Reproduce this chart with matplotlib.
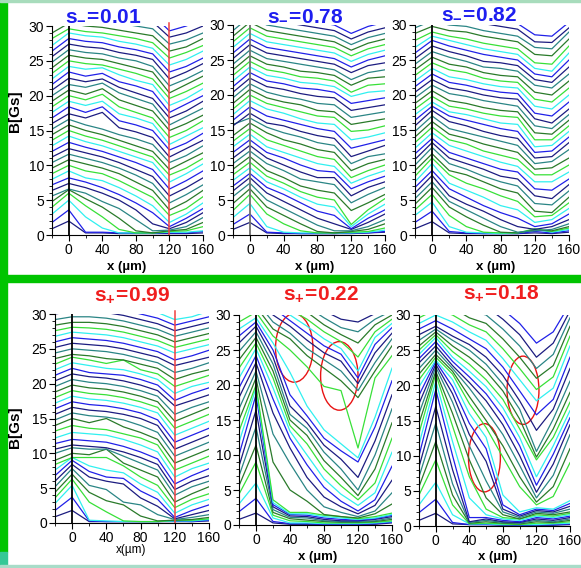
import matplotlib.pyplot as plt
from matplotlib.patches import Ellipse, Rectangle
from matplotlib.ticker import MultipleLocator

plt.rcParams['font.family'] = ['Liberation Sans', 'DejaVu Sans']
plt.rcParams['mathtext.fontset'] = 'custom'
plt.rcParams['mathtext.bf'] = 'Liberation Sans:bold'
plt.rcParams['mathtext.rm'] = 'Liberation Sans'

W, H = 581, 568

# sample positions (um) and line colour cycle (bottom line first)
x_pos = [-20, 0, 20, 40, 60, 80, 100, 120, 140, 160]
line_colors = ['#1c1c80', '#2020e8', '#30f0f0', '#38e038', '#2a7a2a', '#2a8585']

# B(x) profiles in Gs, one row per applied field
b_minus_001 = [
    [0.9, 2.0, 0.3, 0.3, 0.2, 0.2, 0.2, 0.2, 0.2, 0.3],
    [1.8, 3.6, 0.4, 0.4, 0.3, 0.3, 0.3, 0.3, 0.3, 0.5],
    [3.0, 5.0, 2.6, 1.0, 0.3, 0.3, 0.3, 0.4, 0.4, 0.6],
    [4.0, 6.0, 4.2, 2.6, 0.8, 0.3, 0.3, 0.5, 0.6, 1.2],
    [4.8, 6.5, 5.2, 4.0, 2.4, 0.6, 0.3, 0.6, 0.8, 1.8],
    [5.6, 6.6, 6.0, 4.8, 3.8, 2.2, 0.6, 0.7, 1.2, 2.5],
    [6.4, 7.4, 6.8, 6.0, 5.0, 3.6, 1.6, 0.9, 1.8, 3.2],
    [7.2, 8.2, 7.6, 6.8, 5.8, 4.6, 3.2, 1.2, 2.4, 3.8],
    [8.0, 9.2, 8.2, 7.8, 6.8, 5.6, 4.2, 1.8, 3.0, 4.6],
    [8.8, 10.0, 9.2, 8.8, 7.8, 6.6, 5.4, 2.8, 3.8, 5.5],
    [9.6, 10.8, 10.2, 9.6, 8.8, 7.6, 6.4, 3.6, 4.8, 6.4],
    [10.4, 11.6, 11.0, 10.4, 9.6, 8.6, 7.4, 4.6, 5.8, 7.2],
    [11.2, 12.4, 11.8, 11.2, 10.4, 9.4, 8.4, 5.6, 6.8, 8.2],
    [12.0, 13.3, 12.6, 12.0, 11.2, 10.4, 9.4, 6.6, 7.8, 9.2],
    [12.8, 14.2, 13.4, 12.8, 12.0, 11.2, 10.4, 7.6, 8.8, 10.2],
    [13.6, 15.0, 14.2, 13.6, 12.8, 12.0, 11.2, 8.6, 9.6, 11.0],
    [14.4, 15.8, 15.0, 14.4, 13.6, 12.8, 12.0, 9.4, 10.6, 11.8],
    [15.2, 16.6, 15.8, 15.2, 14.4, 13.8, 13.0, 10.4, 11.4, 12.8],
    [16.0, 17.4, 16.8, 17.6, 15.4, 14.8, 14.0, 11.2, 12.4, 13.6],
    [16.8, 18.4, 17.6, 18.4, 16.4, 15.8, 15.0, 12.2, 13.2, 14.6],
    [17.6, 19.2, 18.6, 19.2, 17.4, 16.8, 16.0, 13.0, 14.2, 15.4],
    [18.4, 20.0, 19.4, 20.2, 18.4, 17.6, 16.8, 14.0, 15.0, 16.4],
    [19.2, 20.8, 20.2, 21.0, 19.4, 18.6, 17.8, 15.0, 16.0, 17.2],
    [20.0, 21.6, 21.2, 21.8, 20.4, 19.6, 18.8, 15.8, 17.0, 18.2],
    [20.8, 22.5, 22.0, 22.4, 21.2, 20.4, 19.6, 16.8, 17.8, 19.2],
    [21.6, 23.4, 22.8, 23.2, 22.0, 21.4, 20.6, 17.6, 18.8, 20.0],
    [22.4, 24.2, 23.8, 24.0, 23.0, 22.2, 21.6, 18.6, 19.6, 21.0],
    [23.2, 25.0, 24.6, 24.4, 23.8, 23.2, 22.4, 19.6, 20.6, 21.8],
    [24.0, 25.8, 25.4, 25.2, 24.6, 24.0, 23.4, 20.4, 21.6, 22.8],
    [24.8, 26.6, 26.2, 26.0, 25.4, 25.0, 24.2, 21.4, 22.4, 23.6],
    [25.6, 27.4, 27.0, 26.8, 26.2, 25.8, 25.2, 22.4, 23.4, 24.6],
    [26.4, 28.2, 27.8, 27.6, 27.0, 26.6, 26.0, 23.4, 24.2, 25.4],
    [27.2, 29.0, 28.6, 28.4, 27.8, 27.4, 26.8, 24.4, 25.2, 26.4],
    [28.2, 29.6, 29.2, 29.0, 28.6, 28.2, 27.6, 25.4, 26.2, 27.2],
    [29.0, 30.4, 30.0, 29.8, 29.4, 29.0, 28.6, 26.4, 27.0, 28.2],
    [30.0, 31.2, 31.0, 30.8, 30.4, 30.0, 29.6, 27.4, 28.0, 29.0],
    [31.0, 32.0, 32.0, 31.8, 31.4, 31.0, 30.6, 28.4, 29.0, 30.0],
    [32.0, 33.0, 33.0, 32.8, 32.4, 32.0, 31.6, 29.3, 30.0, 31.0],
]

b_minus_078 = [
    [0.8, 1.8, 0.3, 0.2, 0.2, 0.2, 0.2, 0.2, 0.3, 0.4],
    [1.5, 3.0, 0.4, 0.3, 0.2, 0.2, 0.2, 0.3, 0.3, 0.5],
    [2.5, 4.5, 1.2, 0.4, 0.3, 0.3, 0.3, 0.3, 0.4, 0.7],
    [3.5, 5.8, 3.0, 1.6, 0.6, 0.3, 0.3, 0.4, 0.5, 1.0],
    [4.5, 6.6, 4.0, 2.8, 1.6, 0.5, 0.3, 0.5, 0.8, 1.6],
    [5.5, 7.4, 5.0, 3.8, 2.6, 1.4, 0.6, 0.6, 1.2, 2.2],
    [6.3, 8.2, 6.0, 4.8, 3.6, 2.4, 1.6, 0.8, 1.8, 3.0],
    [7.0, 8.8, 6.8, 5.8, 4.6, 3.4, 2.8, 0.9, 2.4, 3.6],
    [7.8, 9.6, 7.6, 6.6, 5.4, 4.4, 4.0, 1.2, 3.0, 4.4],
    [8.6, 10.4, 8.4, 7.4, 6.2, 5.4, 5.0, 1.5, 3.6, 5.2],
    [9.4, 11.2, 9.2, 8.2, 7.0, 6.4, 6.0, 3.5, 4.6, 5.8],
    [10.2, 12.0, 10.2, 9.2, 8.0, 7.6, 7.2, 4.6, 5.8, 6.8],
    [11.0, 12.8, 11.0, 10.0, 9.0, 8.2, 8.2, 5.6, 6.8, 7.6],
    [11.8, 13.6, 11.8, 11.0, 10.0, 9.2, 9.0, 6.6, 7.6, 8.4],
    [12.6, 14.4, 12.6, 11.8, 11.0, 10.2, 9.8, 7.4, 8.4, 9.2],
    [13.4, 15.2, 13.6, 12.8, 12.0, 11.2, 10.8, 8.2, 9.2, 10.0],
    [14.2, 16.0, 14.6, 13.6, 13.0, 12.2, 11.8, 9.2, 10.2, 10.8],
    [15.8, 16.7, 15.4, 14.6, 14.0, 13.2, 12.8, 10.2, 11.2, 11.6],
    [15.6, 17.4, 16.0, 15.6, 14.8, 14.2, 13.8, 11.2, 12.0, 12.8],
    [16.4, 18.3, 17.0, 16.4, 15.8, 15.2, 14.8, 12.4, 13.0, 13.6],
    [17.2, 19.2, 18.0, 17.4, 16.6, 16.0, 15.8, 13.6, 14.0, 14.6],
    [18.0, 20.0, 18.8, 18.2, 17.6, 17.0, 16.8, 14.8, 15.0, 15.6],
    [18.8, 20.8, 19.6, 19.0, 18.6, 17.8, 17.6, 15.8, 16.2, 16.6],
    [19.6, 21.6, 20.4, 19.8, 19.4, 18.8, 18.6, 16.8, 17.2, 17.6],
    [20.4, 22.4, 21.2, 20.8, 20.2, 19.8, 19.6, 17.8, 18.2, 18.6],
    [21.2, 23.2, 22.0, 21.6, 21.0, 20.8, 20.4, 18.8, 19.2, 19.6],
    [22.0, 24.0, 22.8, 22.4, 21.8, 21.6, 21.2, 19.8, 20.4, 20.6],
    [22.8, 24.8, 23.6, 23.2, 22.6, 22.4, 22.0, 20.4, 21.4, 21.6],
    [23.6, 25.6, 24.4, 24.0, 23.4, 23.2, 22.8, 21.4, 22.4, 22.6],
    [24.4, 26.4, 25.2, 24.8, 24.4, 24.0, 23.6, 22.2, 23.2, 23.6],
    [25.2, 27.2, 26.0, 25.6, 25.2, 24.8, 24.4, 23.2, 24.2, 24.6],
    [26.0, 28.0, 26.8, 26.4, 26.0, 25.6, 25.2, 24.0, 25.0, 25.6],
    [26.8, 28.8, 27.6, 27.2, 26.8, 26.4, 26.0, 24.8, 25.8, 26.4],
    [27.6, 29.6, 28.4, 28.0, 27.6, 27.2, 26.8, 25.6, 26.6, 27.2],
    [28.4, 30.4, 29.2, 28.8, 28.4, 28.0, 27.6, 26.4, 27.4, 28.0],
    [29.2, 31.2, 30.0, 29.6, 29.2, 28.8, 28.4, 27.2, 28.2, 28.8],
    [30.0, 32.0, 30.8, 30.4, 30.0, 29.6, 29.2, 28.0, 29.0, 29.6],
    [30.8, 32.8, 31.6, 31.2, 30.8, 30.4, 30.0, 28.8, 29.8, 30.4],
]

b_minus_082 = [
    [0.9, 1.9, 0.3, 0.2, 0.2, 0.2, 0.2, 0.3, 0.2, 0.4],
    [1.8, 3.4, 0.5, 0.3, 0.2, 0.2, 0.2, 0.5, 0.3, 0.6],
    [2.8, 4.7, 1.2, 0.4, 0.3, 0.2, 0.3, 0.8, 0.4, 0.8],
    [3.6, 5.8, 2.8, 1.2, 0.4, 0.3, 0.3, 0.9, 0.5, 1.0],
    [4.4, 6.8, 4.0, 2.6, 1.4, 0.4, 0.3, 0.7, 0.6, 1.2],
    [5.2, 7.6, 4.8, 3.6, 2.4, 1.2, 0.4, 0.6, 0.8, 1.6],
    [6.0, 8.5, 5.6, 4.4, 3.4, 2.2, 1.2, 0.8, 1.2, 2.2],
    [6.8, 9.2, 6.6, 5.4, 4.2, 3.2, 2.4, 1.2, 1.6, 3.0],
    [7.6, 10.2, 7.4, 6.4, 5.4, 4.2, 3.6, 1.8, 2.2, 3.8],
    [8.4, 11.0, 8.6, 7.4, 6.6, 5.6, 4.8, 2.6, 2.8, 4.6],
    [9.2, 11.6, 9.2, 8.6, 7.6, 6.6, 6.0, 3.4, 3.2, 5.4],
    [10.0, 12.5, 10.2, 9.4, 8.4, 7.6, 7.0, 4.5, 4.3, 6.3],
    [10.8, 13.2, 11.0, 10.2, 9.4, 8.4, 8.0, 5.6, 5.2, 7.2],
    [11.6, 13.8, 11.8, 11.0, 10.2, 9.4, 9.0, 6.6, 6.4, 8.0],
    [12.4, 14.6, 12.8, 12.0, 11.2, 10.4, 9.8, 7.6, 7.6, 9.0],
    [13.2, 15.4, 13.6, 13.0, 12.0, 11.4, 10.8, 8.6, 8.6, 10.0],
    [14.0, 16.2, 14.4, 13.8, 13.0, 12.4, 11.8, 9.4, 9.6, 11.0],
    [14.8, 17.0, 15.2, 14.6, 14.0, 13.4, 12.8, 10.2, 10.5, 12.2],
    [15.6, 17.8, 16.2, 15.6, 14.8, 14.2, 13.8, 11.0, 11.2, 13.2],
    [16.4, 18.4, 17.0, 16.4, 15.8, 15.2, 14.8, 11.8, 12.0, 14.0],
    [17.2, 19.0, 17.6, 17.2, 16.6, 16.0, 15.8, 12.6, 12.8, 14.8],
    [18.0, 19.8, 18.4, 18.0, 17.4, 17.0, 16.8, 13.6, 13.6, 15.6],
    [18.8, 20.6, 19.2, 18.8, 18.2, 17.8, 17.6, 14.6, 14.4, 16.4],
    [19.6, 21.4, 20.2, 19.8, 19.2, 18.8, 18.4, 15.6, 15.2, 17.2],
    [20.4, 22.2, 21.0, 20.6, 20.0, 19.6, 19.4, 16.6, 16.0, 18.0],
    [21.2, 23.0, 21.8, 21.4, 20.8, 20.4, 20.2, 17.4, 17.0, 19.0],
    [22.0, 23.8, 22.6, 22.2, 21.6, 21.2, 21.0, 18.4, 18.0, 20.0],
    [22.8, 24.6, 23.6, 23.2, 22.4, 22.0, 21.8, 19.4, 19.0, 21.0],
    [23.6, 25.4, 24.4, 24.0, 23.2, 22.8, 22.6, 20.4, 20.0, 22.0],
    [24.4, 26.2, 25.4, 24.8, 24.0, 23.8, 23.4, 21.4, 21.0, 23.0],
    [25.2, 27.0, 26.2, 25.6, 24.8, 24.6, 24.2, 22.2, 21.8, 24.0],
    [26.0, 27.8, 27.0, 26.4, 25.8, 25.4, 25.0, 23.0, 22.6, 25.0],
    [26.8, 28.4, 27.8, 27.2, 26.6, 26.2, 25.8, 23.8, 23.4, 26.0],
    [27.8, 29.0, 28.4, 28.0, 27.4, 27.0, 26.6, 24.6, 24.4, 27.0],
    [28.8, 29.8, 29.2, 29.0, 28.4, 28.0, 27.6, 25.8, 25.6, 28.0],
    [29.6, 30.6, 30.0, 29.8, 29.2, 28.8, 28.4, 26.8, 26.6, 29.0],
    [30.4, 31.4, 31.0, 30.8, 30.2, 29.8, 29.4, 27.6, 27.5, 29.6],
    [31.2, 32.2, 31.8, 31.6, 31.0, 30.6, 30.2, 28.6, 28.4, 30.4],
]

b_plus_099 = [
    [0.9, 1.8, 0.2, 0.2, 0.2, 0.2, 0.2, 0.2, 0.2, 0.3],
    [1.8, 3.7, 0.3, 0.2, 0.2, 0.2, 0.2, 0.3, 0.2, 0.4],
    [2.8, 5.4, 0.4, 0.3, 0.2, 0.2, 0.2, 0.3, 0.3, 0.5],
    [3.6, 6.3, 3.0, 1.6, 0.3, 0.2, 0.2, 0.4, 0.4, 0.6],
    [4.4, 7.0, 4.4, 3.2, 2.6, 1.0, 0.3, 0.4, 0.5, 0.8],
    [5.2, 7.8, 5.4, 4.8, 3.0, 2.6, 1.2, 0.5, 0.8, 1.2],
    [6.0, 8.4, 6.6, 6.0, 5.6, 3.6, 2.4, 0.6, 1.2, 1.8],
    [6.8, 9.0, 7.4, 6.6, 6.4, 4.6, 3.4, 0.8, 1.8, 2.6],
    [7.6, 9.4, 8.2, 7.6, 7.2, 5.6, 4.4, 1.4, 2.6, 3.4],
    [8.4, 9.4, 9.4, 9.4, 8.2, 6.6, 5.4, 2.2, 3.4, 4.2],
    [9.0, 10.0, 9.8, 10.6, 8.6, 7.6, 6.6, 3.0, 4.2, 5.2],
    [10.0, 10.8, 10.6, 10.6, 9.6, 8.6, 7.6, 4.0, 5.2, 6.0],
    [10.6, 11.2, 11.0, 10.8, 10.2, 9.4, 8.4, 4.8, 6.0, 6.8],
    [11.4, 12.0, 11.8, 11.6, 11.0, 10.2, 9.2, 5.6, 6.8, 7.8],
    [12.2, 13.0, 12.8, 12.6, 12.0, 11.2, 10.2, 6.6, 7.8, 8.6],
    [13.2, 14.0, 13.6, 13.4, 12.8, 12.2, 11.2, 7.6, 8.6, 9.6],
    [14.0, 15.0, 14.4, 15.0, 13.8, 13.0, 12.0, 8.6, 9.6, 10.6],
    [14.8, 15.8, 15.4, 15.2, 14.8, 14.0, 13.0, 9.6, 10.6, 11.6],
    [15.6, 16.6, 16.2, 16.0, 15.6, 15.0, 14.0, 10.6, 11.6, 12.6],
    [16.4, 17.4, 17.0, 16.8, 16.4, 15.8, 14.8, 11.6, 12.6, 13.6],
    [17.2, 18.2, 17.8, 17.6, 17.2, 16.6, 15.8, 12.6, 13.6, 14.6],
    [18.0, 19.0, 18.6, 18.4, 18.0, 17.4, 16.6, 13.6, 14.6, 15.6],
    [18.8, 19.8, 19.4, 19.2, 18.8, 18.2, 17.4, 14.6, 15.6, 16.6],
    [19.6, 20.6, 20.2, 20.0, 19.6, 19.0, 18.2, 15.6, 16.6, 17.4],
    [20.4, 21.4, 21.0, 20.8, 20.4, 19.8, 19.0, 16.8, 17.6, 18.4],
    [21.2, 22.2, 21.6, 21.4, 21.2, 20.6, 19.8, 17.6, 18.6, 19.4],
    [22.0, 23.0, 22.6, 22.2, 22.0, 21.4, 20.6, 18.6, 19.6, 20.2],
    [22.8, 23.8, 23.4, 22.9, 23.4, 22.0, 21.4, 19.6, 20.4, 21.2],
    [23.6, 24.2, 24.0, 23.6, 23.4, 22.8, 22.2, 20.6, 21.4, 22.0],
    [24.4, 25.0, 24.8, 24.6, 24.2, 23.6, 23.0, 21.6, 22.2, 23.0],
    [25.2, 25.8, 25.6, 25.4, 25.0, 24.4, 23.8, 22.6, 23.2, 23.8],
    [26.0, 26.6, 26.4, 26.2, 25.8, 25.2, 24.6, 23.4, 24.0, 24.8],
    [26.8, 27.4, 27.2, 27.0, 26.6, 26.0, 25.4, 24.4, 25.0, 25.6],
    [27.6, 28.1, 28.0, 27.8, 27.4, 26.8, 26.2, 25.2, 25.8, 26.4],
    [28.4, 28.8, 28.8, 28.6, 28.2, 27.6, 27.0, 26.0, 26.6, 27.2],
    [29.2, 29.6, 29.6, 29.4, 29.0, 28.4, 27.8, 26.8, 27.4, 28.0],
    [30.0, 30.4, 30.4, 30.2, 29.8, 29.2, 28.6, 27.6, 28.2, 28.8],
    [30.8, 31.2, 31.2, 31.0, 30.6, 30.0, 29.4, 28.4, 29.0, 29.6],
    [31.6, 32.0, 32.0, 31.8, 31.4, 30.8, 30.2, 29.2, 29.6, 30.4],
]

b_plus_022 = [
    [0.8, 1.7, 0.3, 0.1, 0.1, 0.1, 0.1, 0.1, 0.1, 0.3],
    [1.9, 3.8, 0.5, 0.2, 0.2, 0.1, 0.1, 0.1, 0.2, 0.4],
    [3.0, 6.0, 1.0, 0.3, 0.3, 0.2, 0.2, 0.2, 0.3, 0.5],
    [4.4, 9.0, 1.4, 0.6, 0.5, 0.3, 0.3, 0.3, 0.4, 0.6],
    [5.6, 11.4, 1.8, 0.9, 0.7, 0.5, 0.4, 0.4, 0.5, 0.8],
    [7.0, 14.0, 2.2, 1.1, 1.0, 0.6, 0.5, 0.5, 0.6, 1.0],
    [8.4, 16.4, 2.6, 1.3, 1.2, 0.8, 0.6, 0.6, 0.8, 1.2],
    [10.0, 18.6, 2.9, 1.5, 1.4, 1.0, 0.8, 0.7, 0.9, 1.4],
    [11.8, 19.6, 3.2, 1.6, 1.6, 1.2, 1.0, 0.8, 1.0, 1.5],
    [13.4, 20.0, 3.6, 1.8, 1.8, 1.4, 1.2, 0.9, 1.2, 1.7],
    [15.0, 21.0, 9.0, 5.0, 3.4, 1.5, 1.2, 1.0, 1.6, 3.0],
    [16.6, 22.0, 13.0, 8.8, 5.0, 2.6, 1.8, 1.2, 2.0, 4.6],
    [18.2, 23.2, 16.0, 11.0, 6.8, 4.0, 2.6, 1.6, 2.8, 6.4],
    [19.6, 24.2, 18.0, 12.4, 8.6, 5.4, 3.4, 2.0, 3.6, 8.4],
    [21.0, 25.2, 19.6, 13.4, 10.0, 6.6, 4.4, 2.8, 4.6, 10.4],
    [22.4, 26.0, 21.0, 14.2, 11.6, 8.0, 5.6, 3.6, 6.0, 12.4],
    [23.6, 26.8, 22.0, 15.0, 12.8, 9.2, 6.8, 4.2, 8.0, 14.6],
    [24.8, 27.6, 23.0, 15.8, 13.8, 10.4, 8.0, 5.0, 10.0, 16.6],
    [26.0, 28.4, 24.0, 17.0, 14.6, 11.4, 9.4, 6.8, 12.0, 18.6],
    [27.0, 29.0, 25.0, 18.6, 15.6, 12.4, 10.6, 9.0, 14.0, 20.6],
    [28.0, 29.6, 26.0, 21.8, 17.0, 13.6, 11.6, 9.6, 15.4, 22.4],
    [29.0, 30.4, 27.0, 25.0, 22.6, 19.8, 19.2, 11.0, 21.0, 24.2],
    [30.0, 31.2, 28.0, 26.6, 24.2, 22.4, 20.6, 18.2, 22.0, 25.6],
    [30.8, 32.0, 29.0, 27.4, 25.2, 23.6, 22.0, 19.2, 23.2, 26.6],
    [31.6, 32.8, 30.0, 28.4, 26.4, 24.6, 23.4, 20.2, 24.6, 27.4],
    [32.4, 33.6, 31.0, 29.2, 27.4, 25.6, 24.4, 21.0, 25.8, 28.2],
    [33.2, 34.4, 31.8, 30.0, 28.4, 26.6, 25.2, 22.0, 26.8, 28.8],
    [34.0, 35.2, 32.6, 30.8, 29.4, 27.6, 26.2, 24.0, 27.6, 29.4],
    [34.8, 36.0, 33.4, 31.6, 30.4, 28.6, 27.2, 26.0, 28.6, 30.0],
    [35.6, 36.8, 34.2, 32.4, 31.2, 29.6, 28.2, 27.6, 29.4, 30.6],
    [36.4, 37.6, 35.0, 33.2, 32.0, 30.6, 29.4, 29.0, 30.2, 31.2],
]

b_plus_018 = [
    [0.8, 1.8, 0.3, 0.2, 0.2, 0.1, 0.1, 0.1, 0.1, 0.2],
    [1.9, 3.8, 0.5, 0.2, 0.2, 0.2, 0.1, 0.2, 0.2, 0.3],
    [3.0, 6.2, 1.6, 0.3, 0.3, 0.2, 0.2, 0.2, 0.3, 0.4],
    [4.4, 9.4, 3.0, 0.3, 0.4, 0.3, 0.2, 0.4, 0.4, 0.6],
    [5.6, 12.0, 4.4, 0.4, 0.6, 0.4, 0.3, 0.6, 0.5, 0.8],
    [7.0, 14.6, 6.0, 0.5, 0.8, 0.5, 0.4, 0.8, 0.6, 1.0],
    [8.4, 17.0, 8.0, 0.6, 1.0, 0.6, 0.5, 1.0, 0.8, 1.2],
    [10.0, 19.4, 10.0, 1.2, 1.2, 0.8, 0.6, 1.2, 1.0, 1.4],
    [11.6, 20.6, 12.0, 4.0, 1.6, 1.0, 0.8, 1.4, 1.2, 1.6],
    [13.2, 21.6, 14.2, 7.0, 2.4, 1.2, 1.0, 1.6, 1.4, 1.8],
    [14.6, 22.0, 16.0, 9.4, 4.0, 1.6, 1.0, 1.8, 1.6, 2.0],
    [16.0, 22.6, 17.6, 11.4, 6.4, 2.0, 1.2, 2.0, 1.8, 2.4],
    [17.4, 23.0, 18.8, 13.0, 9.2, 2.4, 1.4, 2.2, 2.0, 2.8],
    [18.6, 23.4, 19.8, 14.6, 11.0, 3.0, 1.6, 2.4, 2.2, 3.2],
    [19.8, 23.6, 20.8, 16.0, 12.6, 4.4, 2.0, 2.6, 2.4, 3.6],
    [20.8, 24.0, 21.6, 17.4, 14.0, 9.8, 5.6, 3.0, 4.2, 9.0],
    [21.6, 24.4, 22.0, 18.4, 15.0, 11.4, 7.0, 3.4, 5.6, 11.0],
    [22.4, 25.0, 22.4, 19.6, 16.4, 13.0, 8.6, 4.0, 7.2, 13.0],
    [23.2, 25.6, 22.8, 20.4, 17.8, 14.4, 10.0, 4.8, 8.8, 14.4],
    [23.8, 26.2, 23.4, 21.2, 18.8, 15.6, 11.4, 5.8, 10.2, 15.4],
    [24.4, 26.8, 24.0, 22.0, 19.8, 16.8, 12.6, 7.0, 11.4, 16.4],
    [25.0, 27.2, 24.8, 23.0, 20.8, 18.0, 13.8, 9.4, 12.6, 17.6],
    [25.6, 27.6, 25.6, 24.0, 22.0, 19.2, 15.2, 9.8, 13.8, 19.0],
    [26.4, 28.0, 26.4, 25.0, 23.0, 20.2, 16.6, 10.6, 15.2, 20.6],
    [27.2, 28.4, 27.0, 25.8, 24.0, 21.4, 17.8, 13.6, 16.6, 22.4],
    [28.0, 29.2, 28.0, 26.6, 25.2, 22.6, 19.2, 15.8, 18.0, 24.0],
    [28.8, 30.0, 29.0, 27.6, 26.4, 23.8, 20.8, 17.8, 19.6, 25.6],
    [29.6, 30.8, 30.0, 28.6, 27.6, 25.2, 22.4, 19.4, 21.2, 27.0],
    [30.4, 31.6, 31.0, 29.6, 28.8, 26.6, 24.0, 21.0, 22.8, 28.4],
    [31.2, 32.4, 32.0, 30.6, 30.0, 28.0, 25.6, 22.4, 24.4, 29.6],
    [32.0, 33.2, 33.0, 31.6, 31.2, 29.4, 27.2, 24.0, 26.0, 30.6],
    [32.8, 34.0, 34.0, 32.6, 32.4, 30.8, 28.8, 26.0, 27.6, 31.6],
]

titles = [r'$\mathbf{s_{-}\!=\!0.01}$', r'$\mathbf{s_{-}\!=\!0.78}$', r'$\mathbf{s_{-}\!=\!0.82}$',
          r'$\mathbf{s_{+}\!=\!0.99}$', r'$\mathbf{s_{+}\!=\!0.22}$', r'$\mathbf{s_{+}\!=\!0.18}$']
title_colors = ['#1e1ef0'] * 3 + ['#f01e1e'] * 3
panel_data = [b_minus_001, b_minus_078, b_minus_082, b_plus_099, b_plus_022, b_plus_018]

# (left, top, right, bottom) in pixels
boxes = [(52, 26, 203, 235), (233, 25, 385, 235), (415, 25, 569, 235),
         (55, 314, 209, 523), (239, 315, 392, 525), (419, 315, 570, 526)]
title_xy = [(103, 15), (305, 15), (479, 13), (132, 295), (321, 294), (501, 293)]
xlabel_xy = [(127, 267), (315, 267), (496, 267), (131, 550), (318, 557), (498, 557)]
zero_line_color = ['black', '#707070', 'black', 'black', 'black', 'black']
red_line = [True, False, False, True, False, False]

# (panel, x centre, B centre, width um, height Gs)
ellipses = [(4, 45, 25.3, 44, 9.8), (4, 98, 21.3, 44, 9.8),
            (5, 58, 9.7, 38, 9.7), (5, 104, 19.3, 38, 9.7)]

fig = plt.figure(figsize=(W / 100, H / 100), dpi=100)
fig.patch.set_facecolor('white')

# green frame
fig.patches.append(Rectangle((0, 16 / H), 7 / W, 1, color='#00c400', transform=fig.transFigure))
fig.patches.append(Rectangle((0, 0), 7 / W, 16 / H, color='#34c896', transform=fig.transFigure))
fig.patches.append(Rectangle((0, 1 - 282 / H), 1, 7 / H, color='#00c400', transform=fig.transFigure))
fig.patches.append(Rectangle((0, 1 - 2 / H), 1, 2 / H, color='#a8dcbc', transform=fig.transFigure))
fig.patches.append(Rectangle((0, 0), 1, 3 / H, color='#a8dcc8', transform=fig.transFigure))

axes = []
for i, (l, t, r, b) in enumerate(boxes):
    ax = fig.add_axes([l / W, 1 - b / H, (r - l) / W, (b - t) / H])
    ax.set_facecolor('none')
    for k, row in enumerate(panel_data[i]):
        ax.plot(x_pos, row, color=line_colors[k % 6], lw=0.9)
    ax.plot([0, 0], [0, 30], color=zero_line_color[i], lw=1.3)
    if red_line[i]:
        ax.plot([120, 120], [0, 30.5], color='#f04040', lw=1.1, clip_on=False)
    ax.set_xlim(-20, 160)
    ax.set_ylim(0, 30)
    ax.set_xticks([0, 40, 80, 120, 160])
    ax.xaxis.set_minor_locator(MultipleLocator(20))
    ax.set_yticks([0, 5, 10, 15, 20, 25, 30])
    ax.yaxis.set_minor_locator(MultipleLocator(1))
    ax.tick_params(which='major', length=4, width=0.8, labelsize=10, pad=1.5)
    ax.tick_params(which='minor', length=2, width=0.6)
    ax.spines['top'].set_visible(False)
    ax.spines['right'].set_visible(False)
    for s in ('left', 'bottom'):
        ax.spines[s].set_linewidth(0.8)
    axes.append(ax)

for p, xc, yc, w, h in ellipses:
    axes[p].add_patch(Ellipse((xc, yc), w, h, fill=False, edgecolor='#e81414', lw=1.0))

for i in range(6):
    tx, ty = title_xy[i]
    fig.text(tx / W, 1 - ty / H, titles[i], color=title_colors[i], fontsize=15,
             ha='center', va='center')
    lx, ly = xlabel_xy[i]
    if i == 3:
        fig.text(lx / W, 1 - ly / H, 'x(\u00b5m)', fontsize=8.5, ha='center', va='center')
    else:
        fig.text(lx / W, 1 - ly / H, 'x (\u00b5m)', fontsize=9.5, fontweight='bold',
                 ha='center', va='center')

fig.text(15 / W, 1 - 111 / H, 'B[Gs]', fontsize=11, fontweight='bold', rotation=90,
         ha='center', va='center')
fig.text(15 / W, 1 - 427 / H, 'B[Gs]', fontsize=11, fontweight='bold', rotation=90,
         ha='center', va='center')

fig.savefig('out.png', dpi=100)
